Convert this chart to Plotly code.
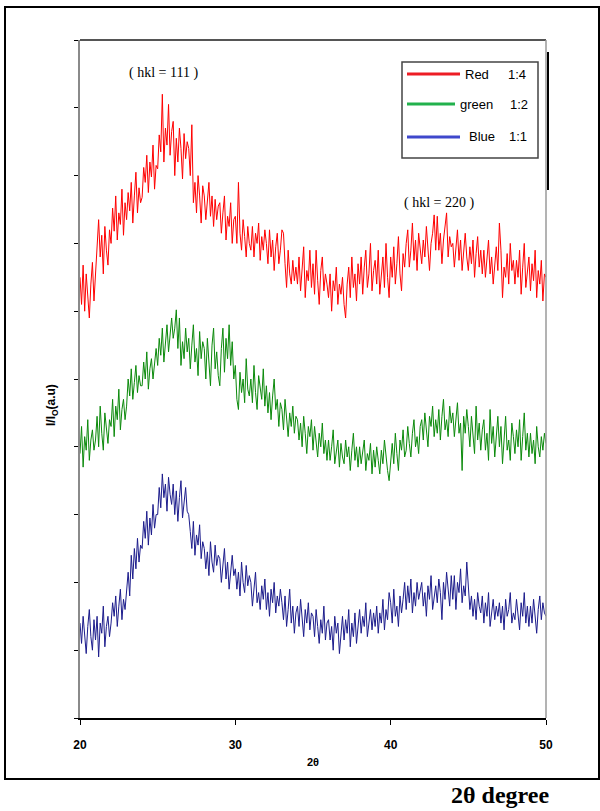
import numpy as np
import plotly.graph_objects as go

two_theta = np.round(np.arange(20.0, 50.0001, 0.1), 1).tolist()

red_ratio_1_4 = [
650, 610, 668, 600, 655, 625, 590, 640, 672, 615,
660, 700, 735, 680, 712, 655, 725, 690, 668, 720,
700, 752, 718, 770, 705, 745, 728, 780, 712, 760,
735, 775, 748, 790, 730, 770, 805, 745, 782, 760,
768, 812, 790, 830, 775, 820, 798, 845, 780, 815,
810, 860, 835, 920, 820, 870, 845, 905, 830, 865,
880, 800, 855, 820, 870, 840, 795, 862, 825, 850,
840, 800, 875, 760, 790, 745, 800, 770, 730, 785,
770, 735, 760, 790, 740, 770, 725, 765, 735, 755,
760, 715, 745, 770, 705, 740, 725, 760, 700, 735,
740, 700, 790, 715, 690, 735, 710, 680, 725, 700,
690, 725, 680, 715, 700, 730, 675, 710, 690, 720,
700, 670, 720, 680, 705, 660, 695, 715, 670, 690,
720, 715, 670, 635, 690, 655, 640, 675, 645, 665,
640, 680, 630, 665, 695, 620, 660, 645, 690, 635,
670, 625, 690, 645, 610, 660, 680, 630, 655, 640,
620, 655, 600, 645, 630, 665, 610, 640, 625, 650,
610, 590, 640, 665, 620, 680, 635, 655, 615, 670,
640, 680, 625, 665, 690, 635, 655, 700, 630, 660,
675, 640, 690, 625, 660, 680, 635, 700, 650, 620,
680, 650, 695, 640, 670, 710, 655, 630, 685, 665,
700, 720, 665, 690, 730, 675, 705, 660, 715, 690,
670, 705, 680, 725, 690, 660, 700, 715, 742, 690,
740, 690, 715, 670, 705, 725, 745, 680, 710, 695,
700, 665, 690, 720, 675, 705, 660, 695, 715, 680,
660, 695, 670, 705, 650, 685, 710, 665, 690, 655,
690, 650, 675, 705, 655, 680, 640, 670, 695, 660,
730, 690, 620, 665, 650, 685, 640, 700, 660, 675,
640, 675, 650, 690, 625, 665, 700, 635, 660, 680,
630, 670, 645, 690, 620, 660, 640, 675, 615, 655,
650,
]

green_ratio_1_2 = [
390, 430, 370, 415, 395, 440, 380, 410, 425, 395,
410, 445, 400, 460, 420, 395, 450, 430, 405, 440,
430, 470, 415, 460, 440, 485, 425, 455, 470, 440,
460, 500, 475, 515, 470, 495, 520, 480, 505, 490,
490, 525, 500, 540, 485, 515, 530, 500, 520, 545,
520, 560, 535, 575, 525, 550, 580, 540, 565, 590,
560, 575, 602, 545, 590, 520, 555, 530, 575, 540,
560, 515, 550, 580, 525, 545, 505, 570, 530, 555,
545, 500, 560, 520, 490, 550, 575, 515, 540, 505,
490, 545, 575, 510, 560, 530, 580, 520, 555, 500,
520, 470, 455, 510, 480, 500, 465, 530, 485, 475,
500, 465, 520, 480, 455, 505, 490, 470, 515, 460,
490, 450, 480, 440, 475, 500, 455, 470, 430, 465,
455, 425, 470, 440, 415, 450, 430, 460, 420, 445,
440, 410, 435, 400, 445, 420, 390, 430, 415, 440,
395, 430, 405, 385, 420, 400, 435, 390, 410, 380,
410, 380, 400, 425, 375, 395, 410, 370, 405, 385,
375, 410, 385, 400, 365, 395, 420, 380, 400, 370,
400, 375, 395, 410, 365, 390, 380, 405, 360, 395,
370, 400, 380, 360, 395, 375, 410, 385, 365, 350,
380, 405, 375, 420, 390, 365, 410, 395, 425, 385,
395, 430, 405, 385, 420, 440, 400, 415, 390, 430,
440, 410, 450, 420, 400, 445, 430, 460, 415, 440,
420, 455, 410, 445, 470, 425, 440, 415, 460, 435,
450, 415, 440, 465, 420, 435, 365, 445, 420, 455,
430, 400, 445, 415, 390, 460, 410, 435, 395, 425,
440, 395, 420, 380, 455, 405, 430, 385, 415, 445,
400, 430, 375, 420, 445, 395, 410, 380, 435, 415,
390, 425, 400, 440, 380, 415, 450, 395, 420, 385,
420, 390, 410, 375, 430, 400, 385, 415, 395, 420,
405,
]

blue_ratio_1_1 = [
140, 110, 150, 125, 95, 135, 160, 120, 100, 145,
115, 150, 90, 140, 125, 165, 105, 135, 150, 120,
140, 170, 150, 180, 135, 165, 190, 145, 175, 160,
190, 215, 180, 240, 205, 250, 220, 265, 230, 255,
250, 290, 265, 305, 255, 295, 270, 315, 280, 300,
300, 340, 310, 360, 325, 345, 305, 355, 330, 315,
345, 300, 335, 290, 325, 350, 295, 320, 340, 305,
300, 275, 250, 290, 240, 270, 255, 285, 235, 260,
250, 220, 245, 210, 260, 230, 215, 255, 225, 240,
235, 200, 225, 250, 205, 230, 190, 220, 240, 210,
220, 190, 215, 180, 230, 200, 185, 225, 195, 210,
200, 165, 190, 215, 170, 185, 160, 195, 175, 205,
160, 185, 150, 190, 170, 200, 155, 180, 165, 190,
170, 145, 180, 135, 160, 190, 140, 165, 125, 155,
165, 135, 175, 145, 120, 160, 140, 170, 130, 155,
150, 120, 160, 135, 110, 145, 125, 165, 115, 140,
145, 115, 135, 100, 150, 125, 140, 95, 130, 150,
115, 145, 125, 160, 105, 140, 120, 155, 110, 135,
160, 125, 150, 135, 170, 120, 145, 160, 130, 155,
135, 165, 125, 155, 140, 175, 130, 160, 145, 185,
170, 140, 190, 150, 165, 135, 180, 155, 175, 200,
160, 195, 170, 205, 155, 185, 165, 200, 175, 190,
200, 165, 185, 150, 195, 175, 210, 160, 180, 195,
170, 205, 185, 145, 200, 175, 215, 190, 165, 210,
175, 210, 160, 200, 185, 220, 170, 195, 180, 230,
190, 160, 180, 150, 175, 145, 185, 165, 155, 180,
140, 170, 150, 185, 135, 160, 175, 145, 165, 150,
170, 140, 165, 130, 175, 150, 160, 185, 140, 155,
145, 175, 155, 130, 170, 150, 185, 140, 165, 135,
165, 140, 175, 150, 125, 160, 180, 145, 170, 155,
150,
]

x_ticks = [20, 30, 40, 50]
y_ticks = list(range(0, 1001, 100))

series = [
    ("Red 1:4", red_ratio_1_4, "#FF0000"),
    ("green 1:2", green_ratio_1_2, "#0B8A0B"),
    ("Blue 1:1", blue_ratio_1_1, "#1C1C8C"),
]

fig = go.Figure()
for name, vals, col in series:
    fig.add_trace(go.Scatter(x=two_theta, y=vals, mode="lines", name=name,
                             line=dict(color=col, width=1), showlegend=False))

W, H = 600, 811
L, R, T, B = 80, 54, 40, 93
pw, ph = W - L - R, H - T - B

def px(xp):
    return (xp - L) / pw

def py(yp):
    return (H - B - yp) / ph

fig.update_layout(
    width=W, height=H,
    margin=dict(l=L, r=R, t=T, b=B),
    paper_bgcolor="white", plot_bgcolor="white",
    font=dict(family="Liberation Sans", color="black"),
    xaxis=dict(range=[20, 50], tickvals=x_ticks, ticks="outside", ticklen=5,
               tickcolor="black", showline=True, linecolor="black", linewidth=2,
               showgrid=False, zeroline=False, ticklabelstandoff=10,
               tickfont=dict(family="Liberation Sans", size=12, weight="bold"),
               title=dict(text="<b>2θ</b>", font=dict(size=11), standoff=7)),
    yaxis=dict(range=[0, 1000], tickvals=y_ticks, ticks="outside", ticklen=4,
               tickcolor="black", showticklabels=False, showline=True,
               linecolor="#8a8a8a", linewidth=2, showgrid=False, zeroline=False),
)

shapes = []
# outer frame
shapes.append(dict(type="rect", xref="paper", yref="paper",
                   x0=px(5), x1=px(599), y0=py(779), y1=py(7),
                   line=dict(color="black", width=2)))
# top border of plot
shapes.append(dict(type="line", xref="paper", yref="paper",
                   x0=0, x1=1, y0=1, y1=1, line=dict(color="#555555", width=2)))
# right border of plot
shapes.append(dict(type="line", xref="paper", yref="paper",
                   x0=1, x1=1, y0=0, y1=1, line=dict(color="#9a9a9a", width=1.5)))
shapes.append(dict(type="line", xref="paper", yref="paper",
                   x0=px(548), x1=px(548), y0=py(190), y1=py(52),
                   line=dict(color="black", width=2)))
# legend box
shapes.append(dict(type="rect", xref="paper", yref="paper",
                   x0=px(402), x1=px(538), y0=py(158), y1=py(62),
                   fillcolor="white", line=dict(color="#444444", width=1.5)))
leg = [
    (74, 407, 460, "#ED1C24", "Red", 463, "1:4", 506),
    (104, 407, 455, "#22B14C", "green", 458, "1:2", 508),
    (137, 407, 460, "#3F48CC", "Blue", 467, "1:1", 507),
]
annotations = []
for yy, lx0, lx1, col, lab, tx, ratio, rx in leg:
    shapes.append(dict(type="line", xref="paper", yref="paper",
                       x0=px(lx0), x1=px(lx1), y0=py(yy), y1=py(yy),
                       line=dict(color=col, width=3)))
    annotations.append(dict(xref="paper", yref="paper", x=px(tx), y=py(yy),
                            text=lab, showarrow=False, xanchor="left", yanchor="middle",
                            font=dict(family="Liberation Sans", size=13, color="black")))
    annotations.append(dict(xref="paper", yref="paper", x=px(rx), y=py(yy),
                            text=ratio, showarrow=False, xanchor="left", yanchor="middle",
                            font=dict(family="Liberation Sans", size=13, color="black")))

annotations += [
    dict(xref="paper", yref="paper", x=px(163), y=py(73), text="( hkl = 111 )",
         xanchor="center", yanchor="middle",
         showarrow=False, font=dict(family="Liberation Serif", size=14, color="black")),
    dict(xref="paper", yref="paper", x=px(439), y=py(203), text="( hkl = 220 )",
         xanchor="center", yanchor="middle",
         showarrow=False, font=dict(family="Liberation Serif", size=14, color="black")),
    dict(xref="paper", yref="paper", x=px(52), y=py(405),
         text="<b>I/I<sub>O</sub>(a.u)</b>", textangle=-90, showarrow=False,
         xanchor="center", yanchor="middle",
         font=dict(family="Liberation Sans", size=12, color="black")),
    dict(xref="paper", yref="paper", x=px(500), y=py(795), text="<b>2θ degree</b>",
         xanchor="center", yanchor="middle",
         showarrow=False, font=dict(family="Liberation Serif", size=24, color="black")),
]

fig.update_layout(shapes=shapes, annotations=annotations)
fig.write_html("out.html", config={"displayModeBar": False},
               post_script="document.body.style.margin='0';document.body.style.overflow='hidden';")
